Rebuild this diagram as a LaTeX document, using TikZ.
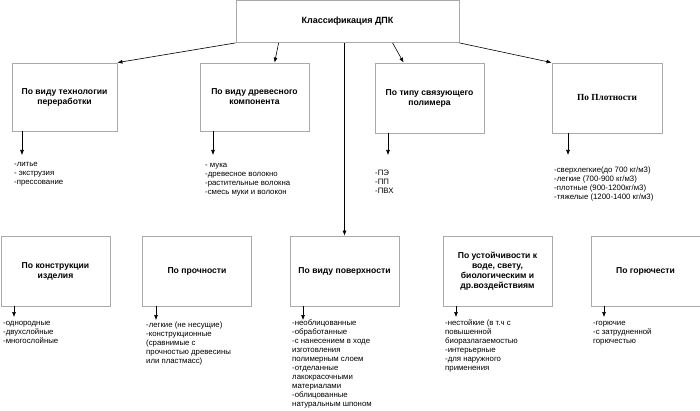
\documentclass[tikz,border=0pt]{standalone}
\usepackage{fontspec}
\setmainfont{Liberation Sans}
\newfontfamily\plotfont{Liberation Serif}
\usetikzlibrary{arrows.meta,calc}
\definecolor{boxGray}{RGB}{170,170,170}

\begin{document}
\begin{tikzpicture}[x=1pt,y=-1pt,
        box/.style={draw=boxGray,line width=0.8pt,fill=white,align=center,
          font=\bfseries\fontsize{8.6}{10}\selectfont,minimum width=109pt,minimum height=69pt,inner sep=2pt},
        lst/.style={anchor=north west,inner sep=0pt,align=left,font=\fontsize{7.8}{9.1}\selectfont},
        arrow/.style={-{Latex[length=5pt,width=4pt]},line width=0.6pt}
      ]
        \useasboundingbox (0,0) rectangle (700,411);
        % top
        \node[box,minimum width=223pt,minimum height=42pt,font=\bfseries\fontsize{9}{11}\selectfont] (klass) at (347.5,21.5) {Классификация ДПК};
        % first row
        \node[box,minimum width=105pt,minimum height=68pt] (tech) at (64.5,97) {По виду технологии\\переработки};
        \node[box,minimum height=68pt] (drev) at (254.5,97) {По виду древесного\\компонента};
        \node[box,minimum height=70pt] (polim) at (429.5,98) {По типу связующего\\полимера};
        \node[box,minimum width=110pt,minimum height=70pt] (plot) at (607,98) {\plotfont\fontsize{9.3}{11}\selectfont По Плотности};
        % second row
        \node[box,minimum height=70pt] (konstr) at (55.5,271) {По конструкции\\изделия};
        \node[box,minimum height=70pt] (proch) at (197,271) {По прочности};
        \node[box,minimum height=70pt] (pov) at (344.5,271) {По виду поверхности};
        \node[box,minimum height=70pt] (ust) at (497.5,271) {По устойчивости к\\воде, свету,\\биологическим и\\др.воздействиям};
        \node[box,minimum height=70pt] (gor) at (645.5,271) {По горючести};
        % lists
        \node[lst] (techL) at (14,159.5) {\strut-литье\\- экструзия\\-прессование};
        \node[lst] (drevL) at (205,160.5) {\strut- мука\\-древесное волокно\\-растительные волокна\\-смесь муки и волокон};
        \node[lst] (polimL) at (375,168.5) {\strut-ПЭ\\-ПП\\-ПВХ};
        \node[lst] (plotL) at (554,165.5) {\strut-сверхлегкие(до 700 кг/м3)\\-легкие (700-900 кг/м3)\\-плотные (900-1200кг/м3)\\-тяжелые (1200-1400 кг/м3)};
        \node[lst] (konstrL) at (3,318.5) {\strut-однородные\\-двухслойные\\-многослойные};
        \node[lst] (prochL) at (146,320.5) {\strut-легкие (не несущие)\\-конструкционные\\(сравнимые с\\прочностью древесины\\или пластмасс)};
        \node[lst] (povL) at (292,318.5) {\strut-необлицованные\\-обработанные\\-с нанесением в ходе\\изготовления\\полимерным слоем\\-отделанные\\лакокрасочными\\материалами\\-облицованные\\натуральным шпоном};
        \node[lst] (ustL) at (445,318.5) {\strut-нестойкие (в т.ч с\\повышенной\\биоразлагаемостью\\-интерьерные\\-для наружного\\применения};
        \node[lst] (gorL) at (593,318.5) {\strut-горючие\\-с затрудненной\\горючестью};
        % arrow ends
        \coordinate (techA) at (22,155);
        \coordinate (drevA) at (213,155);
        \coordinate (polimA) at (388,155);
        \coordinate (plotA) at (568,155);
        \coordinate (konstrA) at (14,317);
        \coordinate (prochA) at (156,320);
        \coordinate (povA) at (303,320);
        \coordinate (ustA) at (456,317);
        \coordinate (gorA) at (604,317);
        % connectors
        \draw[arrow] (klass.south west) -- (tech.north east);
        \draw[arrow] ($(klass.south west)+(43,0)$) -- ($(drev.north west)+(75,0)$);
        \draw[arrow] ($(klass.south west)+(157,0)$) -- ($(polim.north west)+(29,0)$);
        \draw[arrow] (klass.south east) -- (plot.north west);
        \draw[arrow] (klass.south -| pov.north) -- (pov.north);
        \foreach \n in {tech,drev,polim,plot,konstr,proch,pov,ust,gor}
          \draw[arrow] (\n.south -| \n A) -- (\n A);
      \end{tikzpicture}
\end{document}
